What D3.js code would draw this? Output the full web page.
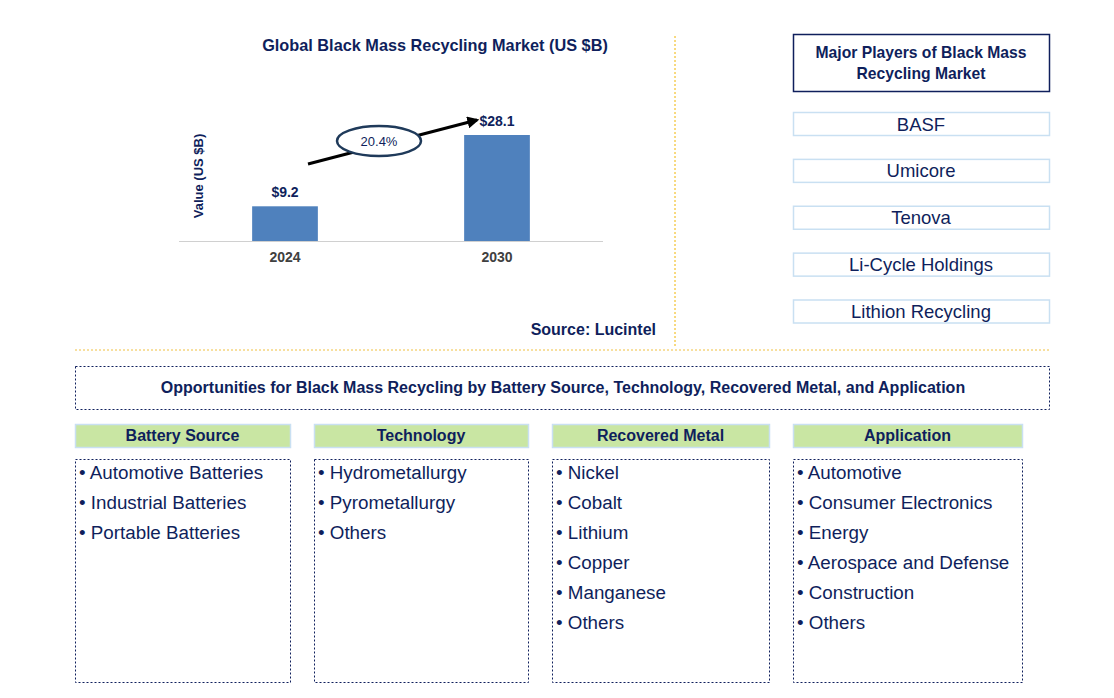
<!DOCTYPE html>
<html>
<head>
<meta charset="utf-8">
<script src="https://cdn.jsdelivr.net/npm/d3@7"></script>
<style>
  body { margin: 0; background: #fff; }
  svg { display: block; }
</style>
</head>
<body>
<div id="container"></div>
<script>
// chart data
const years = ["2024", "2030"];
const marketValues = [9.2, 28.1];
const cagrLabel = "20.4%";

const players = ["BASF", "Umicore", "Tenova", "Li-Cycle Holdings", "Lithion Recycling"];

const segmentTitles = ["Battery Source", "Technology", "Recovered Metal", "Application"];
const batterySources = ["Automotive Batteries", "Industrial Batteries", "Portable Batteries"];
const technologies = ["Hydrometallurgy", "Pyrometallurgy", "Others"];
const recoveredMetals = ["Nickel", "Cobalt", "Lithium", "Copper", "Manganese", "Others"];
const applications = ["Automotive", "Consumer Electronics", "Energy", "Aerospace and Defense", "Construction", "Others"];

const navy = "#0f1f5c";
const width = 1114, height = 698;
const font = "Arial, 'Liberation Sans', sans-serif";

const svg = d3.select("#container").append("svg")
    .attr("width", width)
    .attr("height", height);

// ---- bar chart ----
const x = d3.scaleBand().domain(years).range([179, 603]).paddingInner(0.69).paddingOuter(0.345);
const y = d3.scaleLinear().domain([0, 28.1]).range([241, 135]);

svg.append("text")
    .attr("x", 435).attr("y", 51)
    .attr("text-anchor", "middle")
    .attr("font-family", font).attr("font-weight", "bold").attr("font-size", 16.3)
    .attr("fill", navy)
    .text("Global Black Mass Recycling Market (US $B)");

svg.append("text")
    .attr("transform", "translate(203,176) rotate(-90)")
    .attr("text-anchor", "middle")
    .attr("font-family", font).attr("font-weight", "bold").attr("font-size", 13)
    .attr("fill", navy)
    .text("Value (US $B)");

svg.selectAll("rect.bar")
    .data(marketValues)
    .join("rect")
    .attr("class", "bar")
    .attr("x", (d, i) => x(years[i]))
    .attr("y", d => y(d))
    .attr("width", x.bandwidth())
    .attr("height", d => y(0) - y(d))
    .attr("fill", "#4f81bd");

svg.selectAll("text.val")
    .data(marketValues)
    .join("text")
    .attr("class", "val")
    .attr("x", (d, i) => x(years[i]) + x.bandwidth() / 2)
    .attr("y", d => y(d) - 9)
    .attr("text-anchor", "middle")
    .attr("font-family", font).attr("font-weight", "bold").attr("font-size", 14)
    .attr("fill", navy)
    .text(d => "$" + d);

const xAxis = svg.append("g")
    .attr("transform", `translate(0,${y(0)})`)
    .call(d3.axisBottom(x).tickSize(0).tickPadding(11));
xAxis.select(".domain").attr("stroke", "#d0d0d0").attr("d", "M179,0.5H603");
xAxis.selectAll("text")
    .attr("font-family", font).attr("font-weight", "bold").attr("font-size", 14)
    .attr("fill", "#404040");

// growth arrow
svg.append("defs").append("marker")
    .attr("id", "arrow")
    .attr("viewBox", "0 0 10 10")
    .attr("refX", 8).attr("refY", 5)
    .attr("markerWidth", 4).attr("markerHeight", 4)
    .attr("orient", "auto")
    .append("path").attr("d", "M0,0L10,5L0,10z").attr("fill", "#000");

svg.append("line")
    .attr("x1", 308).attr("y1", 164)
    .attr("x2", 477).attr("y2", 120)
    .attr("stroke", "#000").attr("stroke-width", 3)
    .attr("marker-end", "url(#arrow)");

svg.append("ellipse")
    .attr("cx", 379).attr("cy", 141)
    .attr("rx", 42).attr("ry", 15)
    .attr("fill", "#fff").attr("stroke", "#1f3a5a").attr("stroke-width", 2.5);

svg.append("text")
    .attr("x", 379).attr("y", 146)
    .attr("text-anchor", "middle")
    .attr("font-family", font).attr("font-size", 13)
    .attr("fill", navy)
    .text(cagrLabel);

svg.append("text")
    .attr("x", 656).attr("y", 335)
    .attr("text-anchor", "end")
    .attr("font-family", font).attr("font-weight", "bold").attr("font-size", 16)
    .attr("fill", navy)
    .text("Source: Lucintel");

// separators
svg.append("line")
    .attr("x1", 675).attr("y1", 36).attr("x2", 675).attr("y2", 347)
    .attr("stroke", "#f0b400").attr("stroke-width", 1).attr("stroke-dasharray", "2,2");
svg.append("line")
    .attr("x1", 75).attr("y1", 350).attr("x2", 1050).attr("y2", 350)
    .attr("stroke", "#f0c040").attr("stroke-width", 1).attr("stroke-dasharray", "2,2");

// ---- major players ----
svg.append("rect")
    .attr("x", 793.5).attr("y", 34.5).attr("width", 256).attr("height", 57)
    .attr("fill", "#fff").attr("stroke", navy).attr("stroke-width", 1.5);
svg.append("text")
    .attr("x", 921).attr("y", 58)
    .attr("text-anchor", "middle")
    .attr("font-family", font).attr("font-weight", "bold").attr("font-size", 15.7)
    .attr("fill", navy)
    .selectAll("tspan")
    .data(["Major Players of Black Mass", "Recycling Market"])
    .join("tspan")
    .attr("x", 921)
    .attr("dy", (d, i) => i ? 21 : 0)
    .text(d => d);

const playerY = d3.scalePoint().domain(players).range([124, 311.5]);
const playerG = svg.selectAll("g.player")
    .data(players)
    .join("g")
    .attr("class", "player")
    .attr("transform", d => `translate(0,${playerY(d)})`);
playerG.append("rect")
    .attr("x", 793.5).attr("y", -11.5).attr("width", 256).attr("height", 23)
    .attr("fill", "#fff").attr("stroke", "#c9e0f2").attr("stroke-width", 1.5);
playerG.append("text")
    .attr("x", 921).attr("y", 6.5)
    .attr("text-anchor", "middle")
    .attr("font-family", font).attr("font-size", 18.5)
    .attr("fill", navy)
    .text(d => d);

// ---- opportunities ----
svg.append("rect")
    .attr("x", 75.5).attr("y", 366.5).attr("width", 974).attr("height", 43)
    .attr("fill", "none").attr("stroke", navy).attr("stroke-width", 1).attr("stroke-dasharray", "2,2");
svg.append("text")
    .attr("x", 563).attr("y", 393)
    .attr("text-anchor", "middle")
    .attr("font-family", font).attr("font-weight", "bold").attr("font-size", 16)
    .attr("fill", navy)
    .text("Opportunities for Black Mass Recycling by Battery Source, Technology, Recovered Metal, and Application");

const segmentItems = [batterySources, technologies, recoveredMetals, applications];
const colX = [75, 314, 552, 793];
const colW = [215, 214, 217, 229];

segmentTitles.forEach((title, i) => {
  const g = svg.append("g").attr("transform", `translate(${colX[i]},0)`);
  g.append("rect")
      .attr("x", 0.5).attr("y", 424.5).attr("width", colW[i]).attr("height", 23)
      .attr("fill", "#c9e6a3").attr("stroke", "#c9e0f2").attr("stroke-width", 1.5);
  g.append("text")
      .attr("x", colW[i] / 2).attr("y", 441)
      .attr("text-anchor", "middle")
      .attr("font-family", font).attr("font-weight", "bold").attr("font-size", 16)
      .attr("fill", navy)
      .text(title);
  g.append("rect")
      .attr("x", 0.5).attr("y", 459.5).attr("width", colW[i]).attr("height", 223)
      .attr("fill", "none").attr("stroke", navy).attr("stroke-width", 1).attr("stroke-dasharray", "2,2");
  g.selectAll("text.item")
      .data(segmentItems[i])
      .join("text")
      .attr("class", "item")
      .attr("x", 4).attr("y", (d, j) => 479 + j * 30)
      .attr("font-family", font).attr("font-size", 18.8)
      .attr("fill", navy)
      .text(d => "\u2022 " + d);
});
</script>
</body>
</html>
